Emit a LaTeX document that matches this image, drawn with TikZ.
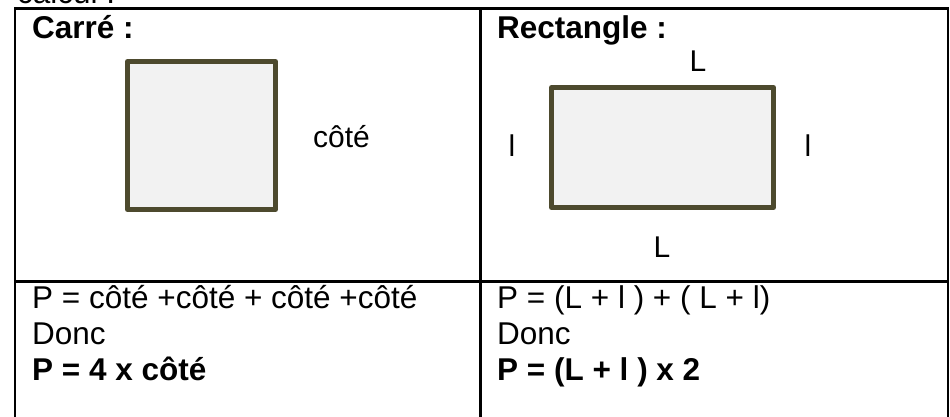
\documentclass[tikz,border=0pt]{standalone}
\usepackage{fontspec}
\setmainfont{Liberation Sans}
\begin{document}
\begin{tikzpicture}[x=1pt,y=-1pt,
  txt/.style={anchor=base west,inner sep=0pt,font=\fontsize{31.5}{36}\selectfont},
  bold/.style={txt,font=\fontsize{31.5}{36}\selectfont\bfseries},
  lbl/.style={anchor=base,inner sep=0pt,font=\fontsize{30}{34}\selectfont},
  grid/.style={line width=2.5pt,black},
  shapebox/.style={draw=shapeol,fill=shapefill,line width=5pt,line join=round}]
\definecolor{shapeol}{HTML}{4D4A2E}
\definecolor{shapefill}{HTML}{F2F2F2}
\useasboundingbox (0,0) rectangle (950,417);
\clip (0,0) rectangle (950,417);
% cut-off caption
\node[txt] (cap) at (17,4) {calcul :};
% table
\draw[grid] (15,430) -- (15,8.5) -- (948,8.5) -- (948,430);
\draw[grid] (480.5,8.5) -- (480.5,430);
\draw[grid] (15,281.3) -- (948,281.3);
% headers
\node[bold] (h1) at (32,39) {Carré :};
\node[bold] (h2) at (497,39) {Rectangle :};
% square
\draw[shapebox] (127.5,61.5) rectangle (275.5,209.5);
\node[lbl,anchor=base west] (cote) at (313,147) {côté};
% rectangle
\draw[shapebox] (551.5,87.5) rectangle (773.5,207.5);
\node[lbl] (Ltop) at (698,72) {L};
\node[lbl] (Lbot) at (662,257) {L};
\node[lbl] (lleft) at (512,157) {l};
\node[lbl] (lright) at (808,157) {l};
% formulas
\node[txt] (f1) at (32,308) {P = côté +côté + côté +côté};
\node[txt] (f2) at (32,344) {Donc};
\node[bold] (f3) at (32,380) {P = 4 x côté};
\node[txt] (g1) at (497,308) {P = (L + l ) + ( L + l)};
\node[txt] (g2) at (497,344) {Donc};
\node[bold] (g3) at (497,380) {P = (L + l ) x 2};
\end{tikzpicture}
\end{document}
